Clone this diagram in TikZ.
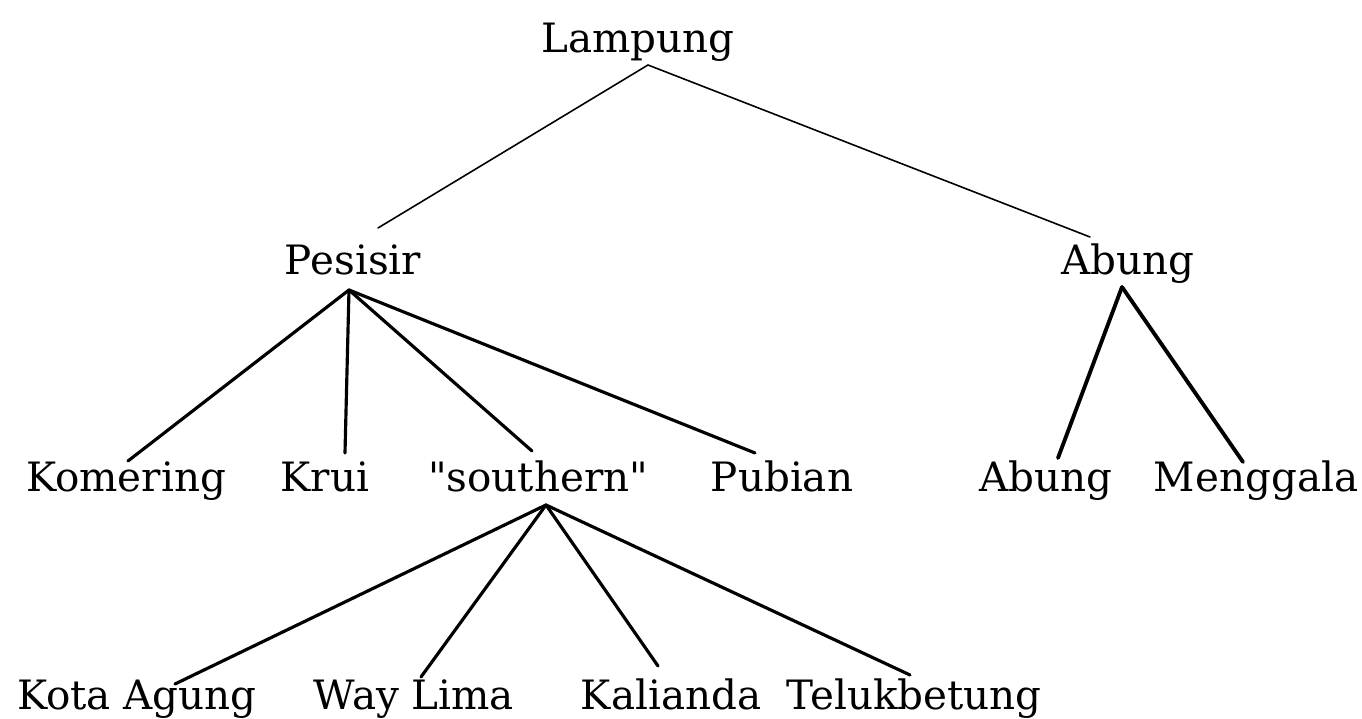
\documentclass[tikz,border=0pt]{standalone}
\usepackage{fontspec}
\setmainfont{DejaVu Serif}[Ligatures=TeXOff]

\begin{document}
\begin{tikzpicture}[x=0.01cm,y=-0.01cm,line cap=round,
  lang/.style={anchor=base,inner sep=0pt,font=\fontsize{11.5}{14}\selectfont},
  thin branch/.style={line width=0.45pt},
  branch/.style={line width=0.9pt}]
  \useasboundingbox (0,0) rectangle (1362,719);

  % the languages
  \node[lang] (lampung) at (638,53) {Lampung};
  \node[lang] (pesisir) at (353,275) {Pesisir};
  \node[lang] (abung) at (1128,275) {Abung};
  \node[lang] (komering) at (126,492) {Komering};
  \node[lang] (krui) at (325,492) {Krui};
  \node[lang] (southern) at (538,492) {"southern"};
  \node[lang] (pubian) at (782,492) {Pubian};
  \node[lang] (abung2) at (1046,492) {Abung};
  \node[lang] (menggala) at (1256,492) {Menggala};
  \node[lang] (kotaagung) at (137,710) {Kota Agung};
  \node[lang] (waylima) at (414,710) {Way Lima};
  \node[lang] (kalianda) at (671,710) {Kalianda};
  \node[lang] (telukbetung) at (914,710) {Telukbetung};

  % where the branches meet the labels
  \coordinate (lampung-b) at (648,65);
  \coordinate (pesisir-t) at (378,228);
  \coordinate (abung-t) at (1090,237);
  \coordinate (pesisir-b) at (349,290);
  \coordinate (abung-b) at (1122,287);
  \coordinate (southern-b) at (546,505);
  \coordinate (komering-t) at (128,461);
  \coordinate (krui-t) at (345,453);
  \coordinate (southern-t) at (532,451);
  \coordinate (pubian-t) at (755,453);
  \coordinate (abung2-t) at (1058,458);
  \coordinate (menggala-t) at (1243,462);
  \coordinate (kotaagung-t) at (175,684);
  \coordinate (waylima-t) at (421,677);
  \coordinate (kalianda-t) at (658,666);
  \coordinate (telukbetung-t) at (910,675);

  \path[thin branch] (lampung-b) edge (pesisir-t)
                                 edge (abung-t);
  \path[branch] (pesisir-b) edge (komering-t)
                            edge (krui-t)
                            edge (southern-t)
                            edge (pubian-t);
  \path[branch,line width=1.1pt] (abung-b) edge (abung2-t)
                                           edge (menggala-t);
  \path[branch] (southern-b) edge (kotaagung-t)
                             edge (waylima-t)
                             edge (kalianda-t)
                             edge (telukbetung-t);

\end{tikzpicture}
\end{document}
